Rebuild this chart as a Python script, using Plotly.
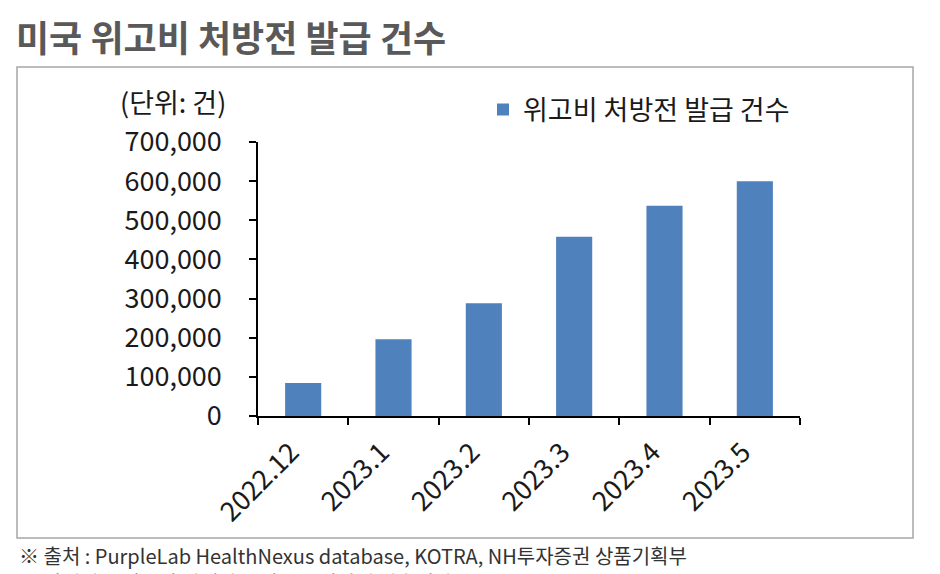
import plotly.graph_objects as go

categories = ["2022.12", "2023.1", "2023.2", "2023.3", "2023.4", "2023.5"]
values = [84000, 196000, 288000, 458000, 537000, 600000]
series_name = "위고비 처방전 발급 건수"
title_text = "미국 위고비 처방전 발급 건수"
unit_text = "(단위: 건)"
source_text = "※ 출처 : PurpleLab HealthNexus database, KOTRA, NH투자증권 상품기획부"
note_text = "※ 과거의 수익률이 미래의 수익을 보장하지 않습니다"
y_ticks = [0, 100000, 200000, 300000, 400000, 500000, 600000, 700000]

W, H = 940, 574
L, R, T, B = 258, 800, 142, 416
FONT = "Noto Sans CJK KR"


def px_x(p):
    return (p - L) / (R - L)


def px_y(p):
    return (B - p) / (B - T)


fig = go.Figure()
fig.add_trace(go.Bar(
    x=categories, y=values, name=series_name,
    marker=dict(color="#4F81BD", line=dict(width=0)),
    showlegend=True,
))

fig.update_layout(
    width=W, height=H,
    margin=dict(l=L, r=W - R, t=T, b=H - B),
    paper_bgcolor="white", plot_bgcolor="white",
    bargap=0.6,
    font=dict(family=FONT, color="#1a1a1a", size=27),
    showlegend=True,
    legend=dict(
        x=px_x(483), y=px_y(110), xanchor="left", yanchor="middle",
        font=dict(size=27, family=FONT, color="#1a1a1a"),
        bgcolor="rgba(0,0,0,0)", borderwidth=0,
    ),
    xaxis=dict(
        type="category", showline=True, linecolor="#000", linewidth=1.5,
        ticks="outside", ticklen=7, tickcolor="#000", tickwidth=1.5,
        tickson="boundaries", tickangle=-45, showgrid=False,
        ticklabelshift=-12, ticklabelstandoff=8,
        tickfont=dict(size=27, family=FONT, color="#1a1a1a"),
    ),
    yaxis=dict(
        range=[0, 700000], tickvals=y_ticks,
        ticktext=[f"{v:,}" for v in y_ticks],
        showline=True, linecolor="#000", linewidth=1.5,
        ticks="outside", ticklen=7, tickcolor="#000", tickwidth=1.5,
        showgrid=False, zeroline=False, ticklabelstandoff=22,
        tickfont=dict(size=27, family=FONT, color="#1a1a1a"),
    ),
)

# outer frame
fig.add_shape(type="rect", xref="paper", yref="paper",
              x0=px_x(17), x1=px_x(913), y0=px_y(538), y1=px_y(67),
              line=dict(color="#a6a6a6", width=1.5), layer="below")

fig.add_annotation(text=f"<b>{title_text}</b>", xref="paper", yref="paper",
                   x=px_x(14), y=px_y(36), xanchor="left", yanchor="middle",
                   showarrow=False, font=dict(size=36, family=FONT, color="#595959"))
fig.add_annotation(text=unit_text, xref="paper", yref="paper",
                   x=px_x(228), y=px_y(101), xanchor="right", yanchor="middle",
                   showarrow=False, font=dict(size=27, family=FONT, color="#1a1a1a"))
fig.add_annotation(text=source_text, xref="paper", yref="paper",
                   x=px_x(17), y=px_y(555), xanchor="left", yanchor="middle",
                   showarrow=False, font=dict(size=20, family=FONT, color="#333333"))
fig.add_annotation(text=note_text, xref="paper", yref="paper",
                   x=px_x(17), y=px_y(582), xanchor="left", yanchor="middle",
                   showarrow=False, font=dict(size=20, family=FONT, color="#333333"))

fig.write_html("out.html")
